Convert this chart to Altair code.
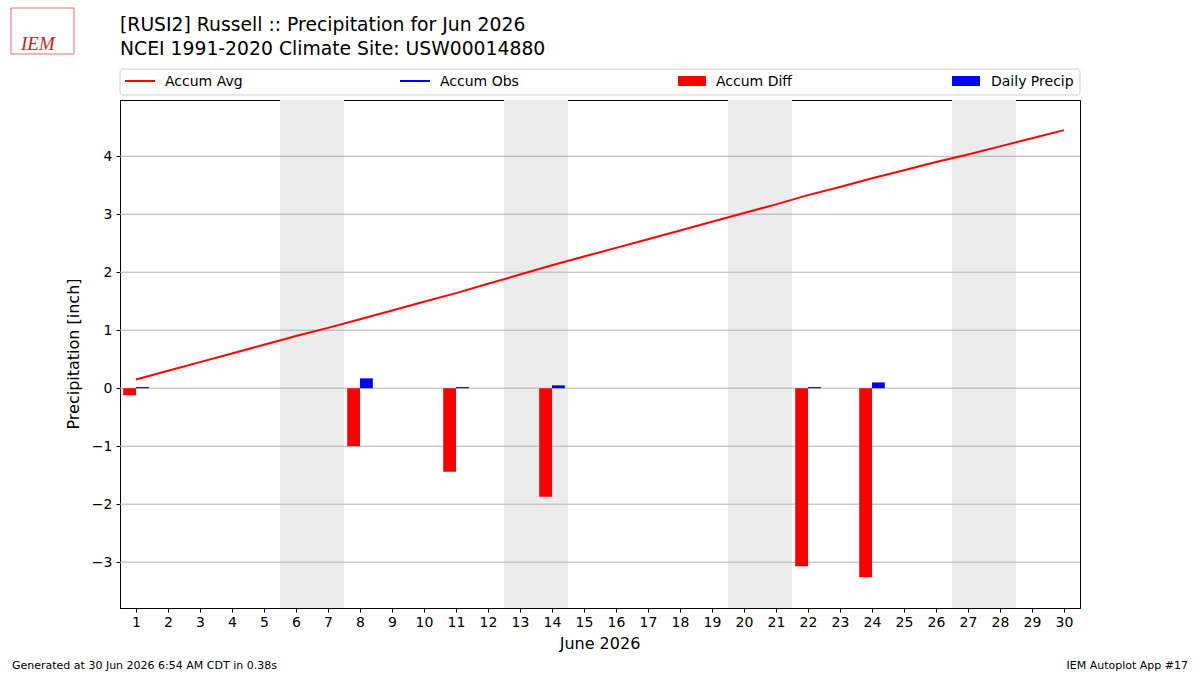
import altair as alt
import pandas as pd

# ---------------- data ----------------
days = list(range(1, 31))
accum_avg = [0.15, 0.30, 0.45, 0.60, 0.75, 0.90, 1.04, 1.19, 1.34, 1.49,
             1.64, 1.80, 1.96, 2.12, 2.27, 2.42, 2.57, 2.72, 2.87, 3.02,
             3.17, 3.33, 3.47, 3.62, 3.76, 3.90, 4.03, 4.17, 4.31, 4.45]
precip_days = [1, 8, 11, 14, 22, 24]
daily_precip = [0.02, 0.17, 0.02, 0.05, 0.02, 0.10]
accum_diff = [-0.12, -1.00, -1.44, -1.87, -3.07, -3.26]
weekend_start = [5.5, 12.5, 19.5, 26.5]
weekend_end = [7.5, 14.5, 21.5, 28.5]
y_ticks = [-3, -2, -1, 0, 1, 2, 3, 4]
x_ticks = days
title_line1 = "[RUSI2] Russell :: Precipitation for Jun 2026"
title_line2 = "NCEI 1991-2020 Climate Site: USW00014880"
x_title = "June 2026"
y_title = "Precipitation [inch]"
footer_left = "Generated at 30 Jun 2026 6:54 AM CDT in 0.38s"
footer_right = "IEM Autoplot App #17"
legend_labels = ["Accum Avg", "Accum Obs", "Accum Diff", "Daily Precip"]

FONT = "DejaVu Sans"
W, H = 960, 508
BAR_W = 0.4

avg_df = pd.DataFrame({"day": days, "avg": accum_avg})
bars_df = pd.DataFrame({"day": precip_days, "precip": daily_precip, "diff": accum_diff})
bars_df["diff_x"] = bars_df["day"] - BAR_W
bars_df["precip_x2"] = bars_df["day"] + BAR_W
bars_df["zero"] = 0.0
wk_df = pd.DataFrame({"x": weekend_start, "x2": weekend_end})
grid_df = pd.DataFrame({"y": y_ticks})
one = pd.DataFrame({"a": [0]})

xscale = alt.Scale(domain=[0.5, 30.5], nice=False, zero=False)
yscale = alt.Scale(domain=[-3.79, 4.97], nice=False, zero=False)

xaxis = alt.Axis(values=x_ticks, format="d", title=None, grid=False,
                 labelFont=FONT, labelFontSize=14, labelColor="black",
                 tickColor="black", tickSize=4, labelPadding=3,
                 domainColor="black", labelFlush=False, labelOverlap=False)
yaxis = alt.Axis(values=y_ticks, format="d", title=None, grid=False,
                 labelFont=FONT, labelFontSize=14, labelColor="black",
                 tickColor="black", tickSize=4, labelPadding=4,
                 domainColor="black", labelFlush=False, labelOverlap=False)

shade = alt.Chart(wk_df).mark_rect(color="#ececec").encode(
    x=alt.X("x:Q", scale=xscale, axis=xaxis),
    x2="x2:Q",
    y=alt.value(0), y2=alt.value(H),
)

grid = alt.Chart(grid_df).mark_rule(color="#b0b0b0", strokeWidth=1).encode(
    y=alt.Y("y:Q", scale=yscale, axis=yaxis),
    x=alt.value(0), x2=alt.value(W),
)

diff_bars = alt.Chart(bars_df).mark_rect(color="#ff0000").encode(
    x=alt.X("diff_x:Q", scale=xscale, axis=xaxis),
    x2="day:Q",
    y=alt.Y("diff:Q", scale=yscale, axis=yaxis),
    y2="zero:Q",
)

precip_bars = alt.Chart(bars_df).mark_rect(color="#0000ff").encode(
    x=alt.X("day:Q", scale=xscale, axis=xaxis),
    x2="precip_x2:Q",
    y=alt.Y("precip:Q", scale=yscale, axis=yaxis),
    y2="zero:Q",
)

avg_line = alt.Chart(avg_df).mark_line(color="#ff0000", strokeWidth=2).encode(
    x=alt.X("day:Q", scale=xscale, axis=xaxis),
    y=alt.Y("avg:Q", scale=yscale, axis=yaxis),
)

def txt(text, x, y, size=14, align="left", baseline="alphabetic", color="black",
        font=FONT, angle=0, style="normal"):
    return alt.Chart(one).mark_text(
        text=text, align=align, baseline=baseline, fontSize=size, font=font,
        color=color, angle=angle, fontStyle=style
    ).encode(x=alt.value(x), y=alt.value(y))

# titles
t1 = txt(title_line1, 0, -69, size=18.8)
t2 = txt(title_line2, 0, -45, size=18.8)

# logo approximation
logo_box = alt.Chart(one).mark_rect(fill="white", stroke="#e07070", strokeWidth=1).encode(
    x=alt.value(-109), x2=alt.value(-46), y=alt.value(-92), y2=alt.value(-46))
logo_txt = txt("IEM", -99, -50, size=19, color="#d42020",
               font="Liberation Serif", style="italic")

# axis titles
xt = txt(x_title, W / 2, 549, size=16, align="center")
yt = txt(y_title, -46, H / 2, size=16, align="center", baseline="middle", angle=270)

# footers
f1 = txt(footer_left, -108, 569, size=11)
f2 = txt(footer_right, 1068, 569, size=11, align="right")

# legend
leg_box = alt.Chart(one).mark_rect(fill="white", stroke="#d0d0d0", strokeWidth=1,
                                   cornerRadius=3).encode(
    x=alt.value(0), x2=alt.value(W), y=alt.value(-31), y2=alt.value(-5))
leg_avg = alt.Chart(one).mark_rule(color="#ff0000", strokeWidth=2).encode(
    x=alt.value(5), x2=alt.value(35), y=alt.value(-19))
leg_obs = alt.Chart(one).mark_rule(color="#0000ff", strokeWidth=2).encode(
    x=alt.value(280), x2=alt.value(310), y=alt.value(-19))
leg_diff = alt.Chart(one).mark_rect(color="#ff0000").encode(
    x=alt.value(558), x2=alt.value(586), y=alt.value(-24), y2=alt.value(-14))
leg_prec = alt.Chart(one).mark_rect(color="#0000ff").encode(
    x=alt.value(832), x2=alt.value(860), y=alt.value(-24), y2=alt.value(-14))
lt1 = txt(legend_labels[0], 45, -18, baseline="middle")
lt2 = txt(legend_labels[1], 320, -18, baseline="middle")
lt3 = txt(legend_labels[2], 596, -18, baseline="middle")
lt4 = txt(legend_labels[3], 871, -18, baseline="middle")

chart = alt.layer(
    shade, grid, diff_bars, precip_bars, avg_line,
    t1, t2, logo_box, logo_txt, xt, yt, f1, f2,
    leg_box, leg_avg, leg_obs, leg_diff, leg_prec, lt1, lt2, lt3, lt4,
).properties(
    width=W, height=H,
    autosize=alt.AutoSizeParams(type="none"),
    padding={"left": 120, "top": 100, "right": 120, "bottom": 67},
    background="white",
).configure_view(
    stroke="black", strokeWidth=1,
).configure_axisX(
    labelOverlap=False,
)

chart.save("out.html", embed_options={"renderer": "svg", "actions": False})
